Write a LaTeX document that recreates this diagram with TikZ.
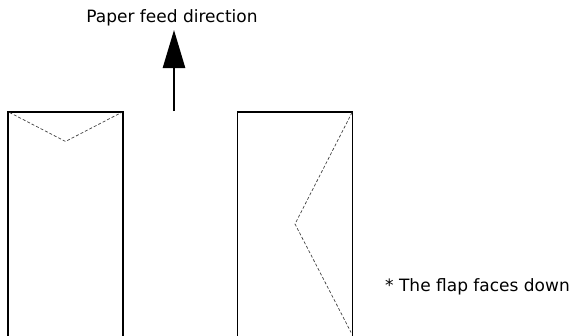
\documentclass[tikz,border=0pt]{standalone}
\usepackage{fontspec}
\setmainfont{DejaVu Sans}
\usetikzlibrary{arrows.meta,calc}
\begin{document}
\begin{tikzpicture}[x=1pt,y=-1pt,
    envelope/.style={draw,line width=1.1pt,rectangle,inner sep=0pt,
      minimum width=115pt,minimum height=230pt},
    flap/.style={draw=black!75,line width=0.7pt,dash pattern=on 3pt off 2pt},
    lbl/.style={font=\fontsize{17}{19}\selectfont,inner sep=0pt}]
  \useasboundingbox (0,0) rectangle (575,335);
  \clip (0,0) rectangle (575,335);
  % Envelopes
  \node[envelope] (envL) at (65.5,227) {};
  \node[envelope] (envR) at (295,227) {};
  % Flaps
  \draw[flap] ($(envL.north west)+(2,1)$) -- ($(envL.north)+(0,30)$)
    -- ($(envL.north east)+(-2,1)$);
  \draw[flap] ($(envR.north east)+(-1,1)$) -- (295,224)
    -- ($(envR.north east)+(-2,221)$);
  % Feed direction
  \node[lbl,anchor=base] (feed) at (172,22) {Paper feed direction};
  \coordinate (feedstart) at (174,111);
  \draw[line width=2.6pt,-{Triangle[width=22pt,length=38pt]}]
    (feedstart) -- (feedstart |- 0,30);
  % Note
  \node[lbl,anchor=base west] (note) at (385,291) {* The flap faces down};
\end{tikzpicture}
\end{document}
